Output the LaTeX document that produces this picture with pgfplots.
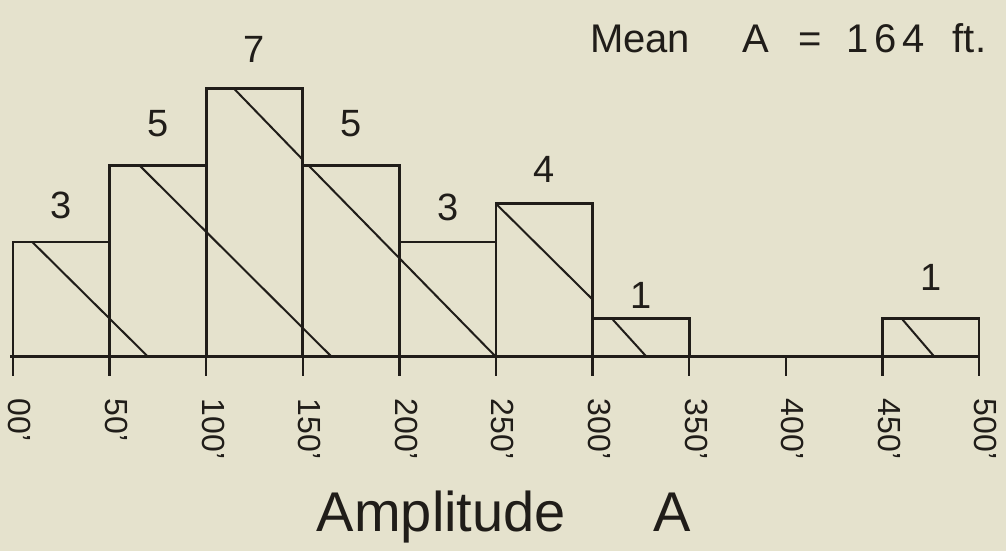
\documentclass[border=0pt]{standalone}
\usepackage{fontspec}
\setmainfont{Liberation Sans}
\usepackage{pgfplots}
\usepackage{pgfplotstable}
\pgfplotsset{compat=1.18}
\definecolor{paper}{RGB}{229,226,205}
\definecolor{ink}{RGB}{32,29,25}

% bin centre, count, label lift (pt)
\pgfplotstableread{
x y dy
25 3 18.5
75 5 21
125 7 19.5
175 5 21
225 3 17.5
275 4 17
325 1 11.5
475 1 20.5
}\counts

\begin{document}
\begin{tikzpicture}
\begin{axis}[
  name=ax,
  scale only axis, width=503pt, height=275.5pt,
  xmin=-6.7, xmax=514, ymin=-5.07, ymax=9.32,
  axis background/.style={fill=paper},
  axis x line=middle, axis y line=none,
  x axis line style={draw=none},
  hide obscured x ticks=false,
  xtick={0,50,...,500},
  xticklabels={00',50',100',150',200',250',300',350',400',450',500'},
  xtick align=outside,
  major tick length=9.5pt,
  every tick/.style={ink, line width=1.2pt},
  xticklabel style={xshift=3.5pt, rotate=-90, anchor=west,
    font=\fontsize{16}{16}\selectfont, text=ink},
  xticklabel shift=8pt,
  /pgf/number format/assume math mode=true,
  clip=false,
]
% baseline
\addplot[ink, line width=1.5pt] coordinates {(-1.5,0) (500,0)};
% bars
\addplot[ybar, bar width=50, draw=ink, fill=none, line width=1.4pt,
  visualization depends on={\thisrow{dy}\as\dy},
  nodes near coords,
  every node near coord/.append style={anchor=center, yshift=\dy pt,
    font=\fontsize{19}{19}\selectfont, text=ink}]
  table[x=x, y=y] {\counts};
% hatch strokes
\addplot[ink, line width=1pt] coordinates {(10,3) (70,0)};
\addplot[ink, line width=1pt] coordinates {(65.5,5) (165,0)};
\addplot[ink, line width=1pt] coordinates {(114.5,7) (150,5.15)};
\addplot[ink, line width=1pt] coordinates {(153,5) (250,0)};
\addplot[ink, line width=1pt] coordinates {(250,4) (300,1.5)};
\addplot[ink, line width=1pt] coordinates {(310,1) (328,0)};
\addplot[ink, line width=1pt] coordinates {(460,1) (477,0)};
% texts
\node[anchor=base west, text=ink, font=\fontsize{20}{20}\selectfont]
  at (rel axis cs:0.5795,0.9056)
  {Mean\hspace{26pt}A\hspace{15pt}=\hspace{12pt}1\hspace{3pt}6\hspace{3pt}4\hspace{14pt}ft.};
\node[anchor=base west, text=ink, font=\fontsize{28}{28}\selectfont]
  at (rel axis cs:0.308,0.0345) {Amplitude\hspace{44pt}A};
\end{axis}
\pgfresetboundingbox
\path[use as bounding box] (ax.south west) rectangle (ax.north east);
\end{tikzpicture}
\end{document}
